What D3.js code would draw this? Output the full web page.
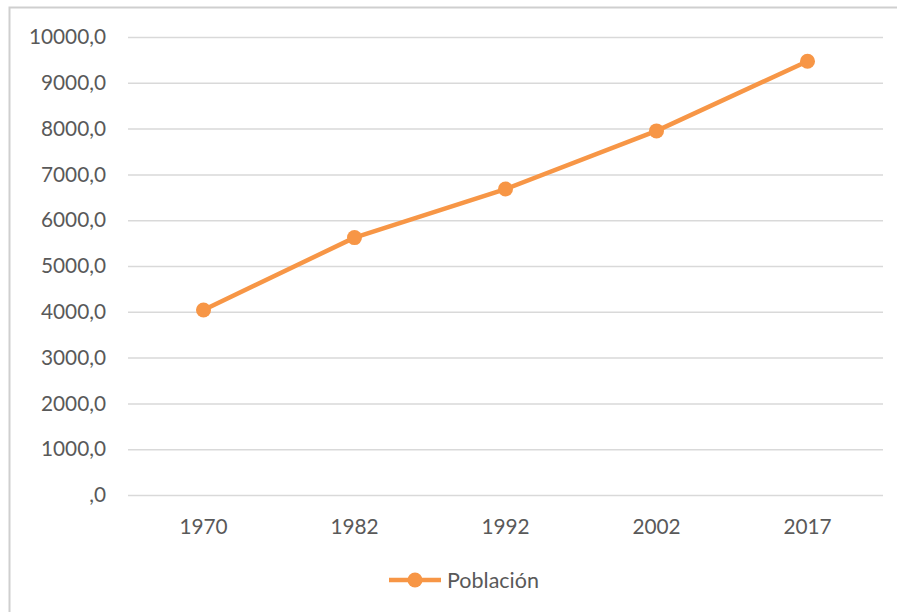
<!DOCTYPE html>
<html>
<head>
<meta charset="utf-8">
<script src="https://cdn.jsdelivr.net/npm/d3@7"></script>
<style>
  body { margin: 0; background: #fff; }
  text { font-family: Lato, "Open Sans", sans-serif; fill: #595959; }
</style>
</head>
<body>
<div id="chart-area"></div>
<script>
var years = ["1970", "1982", "1992", "2002", "2017"];
var poblacion = [4040, 5620, 6680, 7950, 9470];
var yTicks = [0, 1000, 2000, 3000, 4000, 5000, 6000, 7000, 8000, 9000, 10000];
var serieNombre = "Población";

var naranja = "#F79646";

var svg = d3.select("#chart-area")
    .append("svg")
    .attr("width", 900)
    .attr("height", 612);

// marco del grafico
svg.append("path")
    .attr("d", "M9.5,612 L9.5,7.5 L897,7.5")
    .attr("fill", "none")
    .attr("stroke", "#cfcfcf")
    .attr("stroke-width", 2);

var x = d3.scaleBand().domain(years).range([128, 883]);
var y = d3.scaleLinear().domain([0, 10000]).range([495, 37]);

var fmt = function (d) {
    var s = d3.format(".1f")(d).replace(".", ",");
    return s.replace(/^0,/, ",");
};

// rejilla
svg.append("g")
    .attr("transform", "translate(128,0)")
    .call(d3.axisLeft(y).tickValues(yTicks).tickSize(-755).tickFormat(fmt).tickPadding(22))
    .call(g => g.select(".domain").remove())
    .call(g => g.selectAll(".tick line").attr("stroke", "#d9d9d9").attr("stroke-width", 1.5))
    .call(g => g.selectAll(".tick text").attr("font-size", 20.8).style("fill", "#595959"));

svg.append("g")
    .attr("transform", "translate(0,495)")
    .call(d3.axisBottom(x).tickSize(0).tickPadding(24))
    .call(g => g.select(".domain").remove())
    .call(g => g.selectAll(".tick text").attr("font-size", 20.8).style("fill", "#595959"));

var data = years.map((d, i) => ({ year: d, value: poblacion[i] }));
var cx = d => x(d.year) + x.bandwidth() / 2;

svg.append("path")
    .datum(data)
    .attr("fill", "none")
    .attr("stroke", naranja)
    .attr("stroke-width", 4.5)
    .attr("stroke-linejoin", "round")
    .attr("d", d3.line().x(cx).y(d => y(d.value)));

svg.selectAll("circle.pt")
    .data(data)
    .enter()
    .append("circle")
    .attr("class", "pt")
    .attr("cx", cx)
    .attr("cy", d => y(d.value))
    .attr("r", 7.5)
    .attr("fill", naranja);

// leyenda
var leg = svg.append("g").attr("transform", "translate(389,580)");
leg.append("line")
    .attr("x1", 0).attr("x2", 52)
    .attr("stroke", naranja)
    .attr("stroke-width", 4.5);
leg.append("circle").attr("cx", 26).attr("r", 7.5).attr("fill", naranja);
leg.append("text")
    .attr("x", 58)
    .attr("dy", "0.35em")
    .attr("font-size", 21.5)
    .text(serieNombre);
</script>
</body>
</html>
